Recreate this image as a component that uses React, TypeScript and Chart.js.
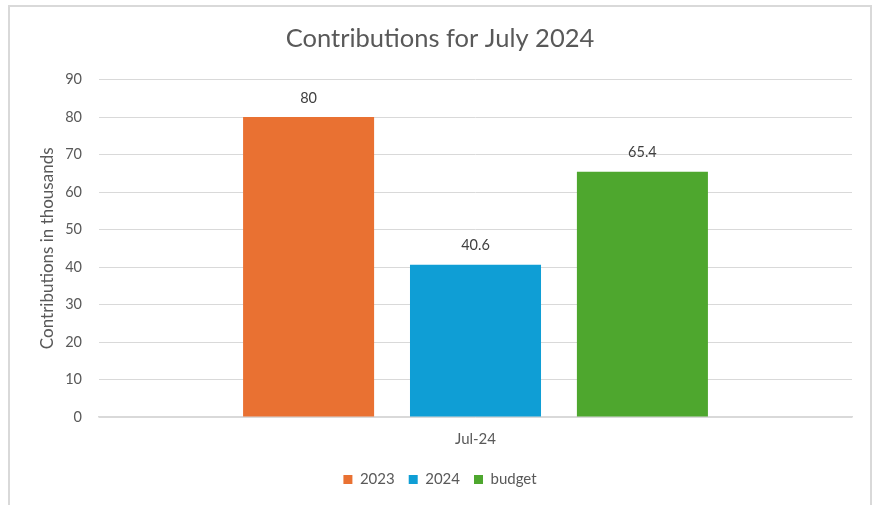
import React, { useEffect, useRef } from "react";
import { Chart, registerables } from "chart.js";

Chart.register(...registerables);

const categories = ["Jul-24"];
const series2023 = [80];
const series2024 = [40.6];
const seriesBudget = [65.4];
const seriesNames = ["2023", "2024", "budget"];
const yTicksMax = 90;
const yTicksStep = 10;

const FONT = "Lato, 'Open Sans', sans-serif";

const valueLabels = {
  id: "valueLabels",
  afterDatasetsDraw(chart: any) {
    const ctx = chart.ctx;
    ctx.save();
    ctx.font = `14.5px ${FONT}`;
    ctx.fillStyle = "#404040";
    ctx.textAlign = "center";
    ctx.textBaseline = "middle";
    chart.data.datasets.forEach((ds: any, i: number) => {
      const meta = chart.getDatasetMeta(i);
      meta.data.forEach((bar: any, j: number) => {
        ctx.fillText(String(ds.data[j]), bar.x, bar.y - 19);
      });
    });
    ctx.restore();
  },
};

export default function App() {
  const ref = useRef<HTMLCanvasElement>(null);
  useEffect(() => {
    if (!ref.current) return;
    const chart = new Chart(ref.current, {
      type: "bar",
      data: {
        labels: categories,
        datasets: [
          { label: seriesNames[0], data: series2023, backgroundColor: "#E97132" },
          { label: seriesNames[1], data: series2024, backgroundColor: "#0F9ED5" },
          { label: seriesNames[2], data: seriesBudget, backgroundColor: "#4EA72E" },
        ],
      },
      options: {
        animation: false,
        responsive: true,
        maintainAspectRatio: false,
        layout: { padding: { left: 20, right: 20, top: 0, bottom: 8 } },
        datasets: { bar: { categoryPercentage: 0.665, barPercentage: 0.785 } },
        plugins: {
          title: {
            display: true,
            text: "Contributions for July 2024",
            color: "#595959",
            font: { family: FONT, size: 25.5, weight: "normal" },
            padding: { top: 18, bottom: 26 },
          },
          legend: {
            position: "bottom",
            labels: {
              color: "#595959",
              font: { family: FONT, size: 15 },
              boxWidth: 9,
              boxHeight: 9,
              padding: 14,
            },
          },
          tooltip: { enabled: false },
        },
        scales: {
          x: {
            grid: { display: false, drawTicks: false },
            border: { display: true, color: "#d9d9d9", width: 1.5 },
            ticks: { color: "#595959", font: { family: FONT, size: 15 }, padding: 13 },
            afterFit: (s: any) => { s.height = 41; },
          },
          y: {
            min: 0,
            max: yTicksMax,
            grid: { color: "#d9d9d9", drawTicks: false },
            border: { display: false },
            ticks: { stepSize: yTicksStep, color: "#595959", font: { family: FONT, size: 14.5 }, padding: 17 },
            title: {
              display: true,
              text: "Contributions in thousands",
              color: "#595959",
              font: { family: FONT, size: 17 },
              padding: { top: 9, bottom: 0 },
            },
            afterFit: (s: any) => { s.width = 71; },
          },
        },
      },
      plugins: [valueLabels],
    });
    return () => chart.destroy();
  }, []);
  return (
    <div
      style={{
        position: "absolute",
        left: 8,
        top: 5,
        width: 864,
        height: 510,
        boxSizing: "border-box",
        border: "2px solid #d9d9d9",
        borderBottom: "none",
        background: "#fff",
      }}
    >
      <div style={{ position: "absolute", left: -2, top: -2, width: 864, height: 500 }}>
        <canvas ref={ref} />
      </div>
    </div>
  );
}
